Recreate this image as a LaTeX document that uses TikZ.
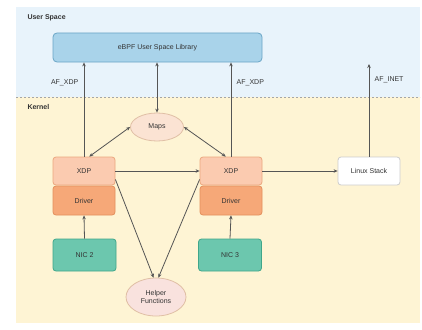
\documentclass[tikz,border=0pt]{standalone}
\usepackage{fontspec}
\setmainfont{Liberation Sans}
\usetikzlibrary{shapes.geometric,arrows.meta}
\definecolor{userbg}{HTML}{E8F3FB}
\definecolor{kernbg}{HTML}{FEF4D4}
\definecolor{libfill}{HTML}{A9D3EA}
\definecolor{libdraw}{HTML}{6AA5C6}
\definecolor{xdpfill}{HTML}{FBCBB0}
\definecolor{xdpdraw}{HTML}{EBA77E}
\definecolor{drvfill}{HTML}{F6A878}
\definecolor{drvdraw}{HTML}{E38F5C}
\definecolor{nicfill}{HTML}{6CC7AE}
\definecolor{nicdraw}{HTML}{3FA68A}
\definecolor{mapfill}{HTML}{FBE3D3}
\definecolor{mapdraw}{HTML}{E0BFA5}
\definecolor{helpfill}{HTML}{F9E2DE}
\definecolor{linecol}{HTML}{555555}
\definecolor{txt}{HTML}{333333}
\tikzset{
  every node/.style={font=\fontsize{7}{8}\selectfont, text=txt},
  boxbase/.style={rectangle, rounded corners=3pt, line width=0.8pt, align=center, inner sep=0pt},
  xdpbox/.style={boxbase, fill=xdpfill, draw=xdpdraw, minimum width=62pt, minimum height=28pt},
  drvbox/.style={boxbase, fill=drvfill, draw=drvdraw, minimum width=62pt, minimum height=29pt},
  nicbox/.style={boxbase, fill=nicfill, draw=nicdraw, minimum width=63pt, minimum height=32pt},
  stackbox/.style={boxbase, fill=white, draw=black!20, minimum width=62pt, minimum height=28pt},
  libbox/.style={boxbase, rounded corners=4pt, fill=libfill, draw=libdraw, minimum width=209pt, minimum height=29pt},
  mapell/.style={ellipse, fill=mapfill, draw=mapdraw, line width=0.8pt, inner sep=0pt, align=center},
  arr/.style={draw=linecol, line width=0.8pt, -{Stealth[length=4pt,width=3.5pt]}},
  arrboth/.style={draw=linecol, line width=0.8pt, {Stealth[length=4pt,width=3.5pt]}-{Stealth[length=4pt,width=3.5pt]}},
  region/.style={font=\fontsize{7}{8}\selectfont\bfseries, text=txt, anchor=west}
}
\begin{document}
\begin{tikzpicture}[x=1pt,y=-1pt]
\useasboundingbox (0,0) rectangle (422,329);
\fill[userbg] (16,7) rectangle (420,97);
\fill[kernbg] (16,97) rectangle (420,323);
\draw[black!35, dashed, dash pattern=on 2pt off 2pt, line width=0.6pt] (16,97) -- (420,97);
\node[region] (uslab) at (24,18) {User Space};
\node[region] (klab) at (24,107) {Kernel};

\node[libbox] (lib) at (157.5,47.5) {eBPF User Space Library};
\node[mapell, minimum width=53pt, minimum height=28pt] (maps) at (157,127) {Maps};
\node[xdpbox] (xdpL) at (84,171) {XDP};
\node[drvbox] (drvL) at (84,200.5) {Driver};
\node[xdpbox] (xdpR) at (231,171) {XDP};
\node[drvbox] (drvR) at (231,200.5) {Driver};
\node[stackbox] (linux) at (369,171) {Linux Stack};
\node[nicbox] (nic2) at (84.5,255) {NIC 2};
\node[nicbox] (nic3) at (230,255) {NIC 3};
\node[mapell, fill=helpfill, minimum width=60pt, minimum height=38pt] (helper) at (156,297) {Helper\\Functions};
\coordinate (inettop) at (369,64);

\draw[arr] (xdpL.north) -- (xdpL.north |- lib.south) node[pos=0.78, left=2pt] {AF\_XDP};
\draw[arr] (xdpR.north) -- (xdpR.north |- lib.south) node[pos=0.78, right=2pt] {AF\_XDP};
\draw[arrboth] (maps.north) -- (maps.north |- lib.south);
\draw[arr] (linux.north) -- (inettop) node[pos=0.83, right=2pt] {AF\_INET};
\draw[arrboth] (maps.west) -- (xdpL.70);
\draw[arrboth] (maps.east) -- (xdpR.110);
\draw[arr] (xdpL.east) -- (xdpR.west);
\draw[arr] (xdpR.east) -- (linux.west);
\draw[arr] (xdpL.-15) -- (helper.97);
\draw[arr] (xdpR.195) -- (helper.83);
\draw[arr] (nic2.north) -- (drvL.south);
\draw[arr] (nic3.north) -- (drvR.south);
\end{tikzpicture}
\end{document}
